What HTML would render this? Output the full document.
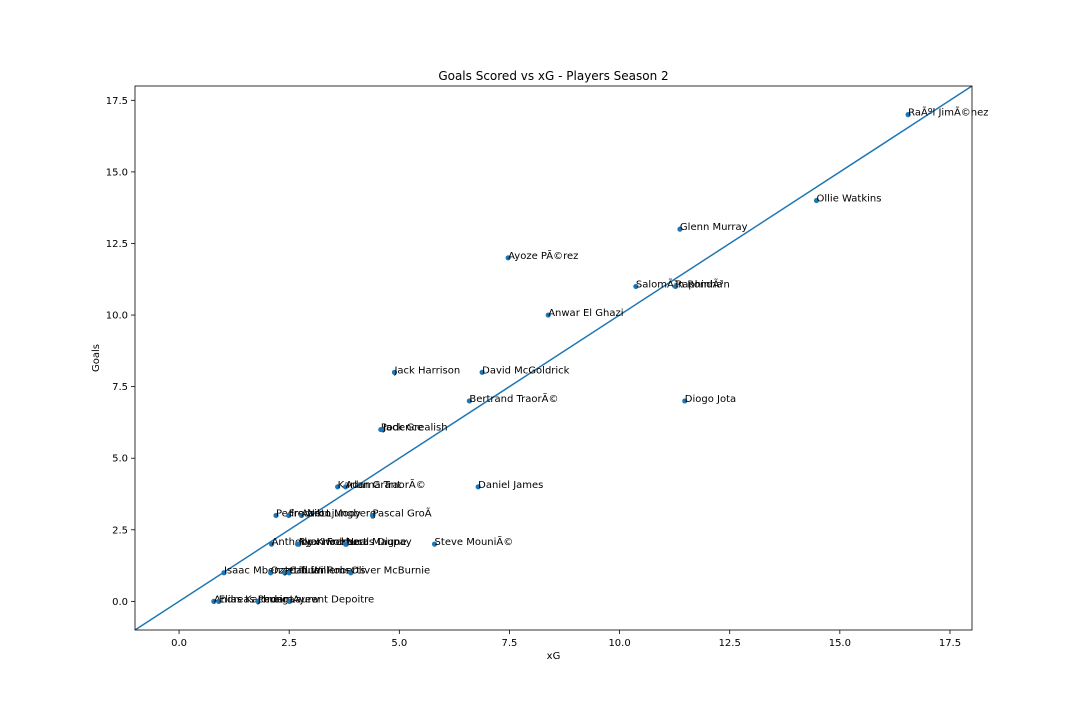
<!DOCTYPE html>
<html><head><meta charset="utf-8"><style>
body{margin:0;background:#fff}
svg{font-family:"DejaVu Sans","Liberation Sans",sans-serif}
</style></head><body>
<svg id="chart" width="1080" height="720" xmlns="http://www.w3.org/2000/svg">
<rect width="1080" height="720" fill="#fff"/>
<text x="553.5" y="80" text-anchor="middle" font-size="12">Goals Scored vs xG - Players Season 2</text>
<text x="553.5" y="659" text-anchor="middle" font-size="10">xG</text>
<text x="99" y="358" text-anchor="middle" font-size="10" transform="rotate(-90 99 358)">Goals</text>
<g id="plot"></g>
</svg>
<script>
const players=["RaÃºl JimÃ©nez","Ollie Watkins","Glenn Murray","Ayoze PÃ©rez","SalomÃ³n RondÃ³n","Raphinha","Anwar El Ghazi","Jack Harrison","David McGoldrick","Bertrand TraorÃ©","Diogo Jota","Podence","Jack Grealish","Karlan Grant","Adama TraorÃ©","Daniel James","Pedro Neto","Fredrik Ljungberg","Aaron Mooy","Pascal GroÃ\u009f","Anthony Knockaert","Alex Iwobi","Ryan Fraser","Lucas Digne","Neal Maupay","Steve MouniÃ©","Isaac Mbenza","Ozan Tufan","Jetro Willems","Callum Roberts","Oliver McBurnie","Andreas Pereira","Elias Kachunga","Jordan Ayew","Laurent Depoitre"];
const xgValues=[16.55,14.47,11.37,7.47,10.37,11.27,8.38,4.89,6.88,6.59,11.48,4.58,4.63,3.6,3.78,6.79,2.2,2.49,2.78,4.39,2.1,2.69,2.72,3.78,3.8,5.8,1.02,2.08,2.4,2.5,3.9,0.79,0.9,1.79,2.51];
const goalValues=[17,14,13,12,11,11,10,8,8,7,7,6,6,4,4,4,3,3,3,3,2,2,2,2,2,2,1,1,1,1,1,0,0,0,0];
const xTicks=[0,2.5,5,7.5,10,12.5,15,17.5];
const yTicks=[0,2.5,5,7.5,10,12.5,15,17.5];
const xMin=-1,xMax=18,yMin=-1,yMax=18;
const L=135,R=972,T=86,B=630;
const sx=v=>L+(v-xMin)/(xMax-xMin)*(R-L);
const sy=v=>B-(v-yMin)/(yMax-yMin)*(B-T);
const NS="http://www.w3.org/2000/svg";
const g=document.getElementById('plot');
function mk(t,a){const e=document.createElementNS(NS,t);for(const k in a)e.setAttribute(k,a[k]);g.appendChild(e);return e;}
xTicks.forEach(v=>{
 const l=mk('line',{x1:sx(v),x2:sx(v),y1:B,y2:B+4,stroke:'#000','stroke-width':0.8});
 
 
 const t=mk('text',{x:sx(v),y:B+16,'text-anchor':'middle','font-size':10});
 
 
 t.textContent=v.toFixed(1);
});
yTicks.forEach(v=>{
 const l=mk('line',{x1:L-4,x2:L,y1:sy(v),y2:sy(v),stroke:'#000','stroke-width':0.8});
 
 
 const t=mk('text',{x:L-7,y:sy(v)+3.5,'text-anchor':'end','font-size':10});
 
 
 t.textContent=v.toFixed(1);
});
const cp=document.createElementNS(NS,'clipPath');cp.id='c';
const cr=document.createElementNS(NS,'rect');cr.setAttribute('x',L);cr.setAttribute('y',T);cr.setAttribute('width',R-L);cr.setAttribute('height',B-T);cp.appendChild(cr);g.appendChild(cp);
const dl=mk('line',{x1:sx(-1),y1:sy(-1),x2:sx(18),y2:sy(18),stroke:'#1f77b4','stroke-width':1.5,'clip-path':'url(#c)'});


players.forEach((n,i)=>{
 const c=mk('circle',{cx:sx(xgValues[i]),cy:sy(goalValues[i]),r:2.6,fill:'#1f77b4'});
 
 
 const t=mk('text',{x:sx(xgValues[i]),y:sy(goalValues[i])+1,'font-size':10});
 
 
 t.textContent=n;
});
const fr=mk('rect',{x:L,y:T,width:R-L,height:B-T,fill:'none',stroke:'#000','stroke-width':0.8});


</script>
</body></html>
